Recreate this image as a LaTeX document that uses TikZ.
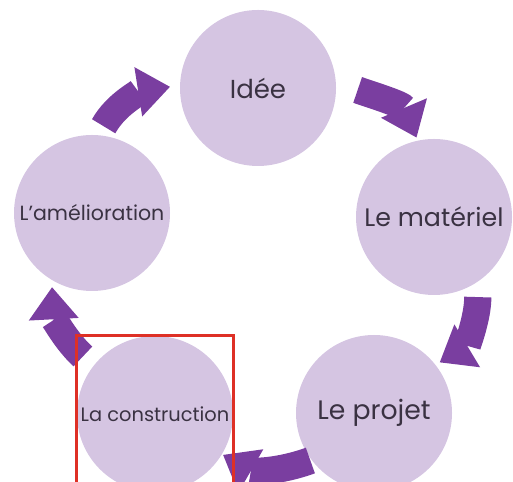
\documentclass[tikz,border=0pt]{standalone}
\usepackage{fontspec}
\setmainfont{Poppins}
\usetikzlibrary{arrows.meta,fit}

\definecolor{lilac}{RGB}{213,197,226}
\definecolor{plum}{RGB}{122,62,160}
\definecolor{ink}{RGB}{58,50,66}
\definecolor{frame}{RGB}{222,48,38}

\begin{document}
\begin{tikzpicture}[
    stage/.style={circle, fill=lilac, minimum size=3.9cm, inner sep=0pt, text=ink},
    flow/.style={plum, line width=0.68cm,
      -{Triangle[length=0.8cm, width=1.25cm, line width=0pt]}},
    highlight/.style={draw=frame, line width=0.075cm, inner sep=0pt}
]

\useasboundingbox (0,0) rectangle (12.825,12.05);
\clip (0,0) rectangle (12.825,12.05);

% ---- stages of the cycle ----
\node[stage, font=\fontsize{18.5}{20}\selectfont] (idee) at (6.45,9.85) {Idée};
\node[stage, font=\fontsize{18}{20}\selectfont] (materiel) at (10.85,6.625)
  {Le matériel};
\node[stage, font=\fontsize{19}{21}\selectfont] (projet) at (9.35,1.725)
  {Le projet};
\node[stage, font=\fontsize{13.8}{16}\selectfont] (constr) at (3.875,1.70)
  {La construction};
\node[stage, font=\fontsize{14.6}{16}\selectfont] (amelio) at (2.30,6.725)
  {L’amélioration};

% ---- curved arrows between stages ----
\draw[flow, shorten <=0.57cm, shorten >=0.08cm]
  (idee.4) to[out=-19, in=113] (materiel.102);
\draw[flow, shorten <=0.38cm, shorten >=0.12cm]
  (materiel.-56) to[out=-90, in=31] (projet.38);
\draw[flow, shorten <=0.03cm, shorten >=0.03cm]
  (projet.217) to[out=200, in=-30] (constr.-31);
\draw[flow, shorten <=0.35cm, shorten >=0.18cm]
  (constr.142) to[out=138, in=-87] (amelio.239);
\draw[flow, shorten <=0.25cm, shorten >=0.25cm]
  (amelio.85) to[out=61, in=189] (idee.178);

% ---- highlighted stage ----
\node[highlight, fit=(constr)] (cadre) {};

\end{tikzpicture}
\end{document}
